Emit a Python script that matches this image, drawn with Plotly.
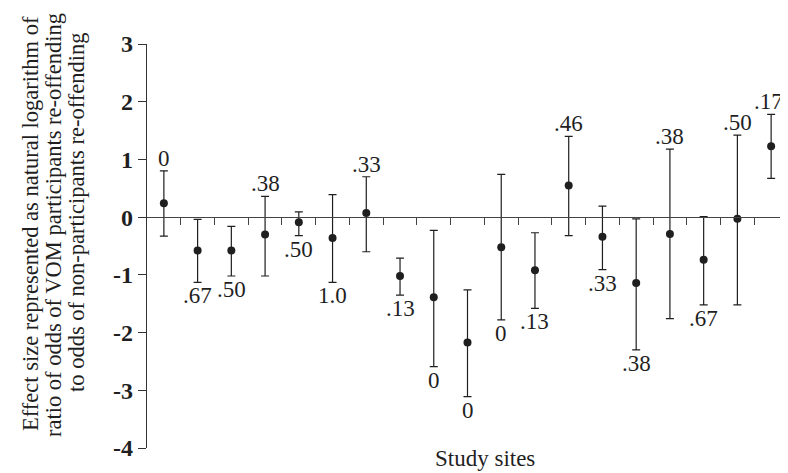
import plotly.graph_objects as go

# ---- data ----
sites = list(range(1, 20))
effect = [0.24, -0.58, -0.58, -0.30, -0.09, -0.36, 0.07, -1.02, -1.39, -2.17,
          -0.52, -0.92, 0.55, -0.34, -1.14, -0.29, -0.74, -0.03, 1.23]
upper = [0.80, -0.04, -0.16, 0.36, 0.09, 0.39, 0.70, -0.71, -0.23, -1.26,
         0.74, -0.27, 1.40, 0.19, -0.03, 1.18, 0.01, 1.42, 1.78]
lower = [-0.33, -1.13, -1.02, -1.02, -0.32, -1.13, -0.60, -1.35, -2.59, -3.11,
         -1.78, -1.58, -0.32, -0.91, -2.30, -1.76, -1.52, -1.52, 0.67]
labels = ["0", ".67", ".50", ".38", ".50", "1.0", ".33", ".13", "0", "0",
          "0", ".13", ".46", ".33", ".38", ".38", ".67", ".50", ".17"]
label_side = ["above", "below", "below", "above", "below", "below", "above",
              "below", "below", "below", "below", "below", "above", "below",
              "below", "above", "below", "above", "above"]
y_ticks = [-4, -3, -2, -1, 0, 1, 2, 3]
x_ticks = [i + 0.5 for i in range(1, 19)]
y_title_lines = ["Effect size represented as natural logarithm of",
                 "ratio of odds of VOM participants re-offending",
                 "to odds of non-participants re-offending"]
x_title = "Study sites"

INK = "#1f1f1f"
SERIF = "Liberation Serif, Times New Roman, serif"

# page body adds an 8px offset, so the figure is sized to fit the window
W, H = 780, 465
L, R, T, B = 139, 0, 36, 25
PW, PH = W - L - R, H - T - B


def px_x(p):
    return (p - L) / PW


def px_y(p):
    return (H - B - p) / PH


fig = go.Figure()
fig.add_trace(go.Scatter(
    x=sites, y=effect, mode="markers",
    marker=dict(color=INK, size=8),
    error_y=dict(type="data", symmetric=False,
                 array=[u - m for u, m in zip(upper, effect)],
                 arrayminus=[m - l for m, l in zip(effect, lower)],
                 color=INK, thickness=1.2, width=4),
    showlegend=False, cliponaxis=False,
))

n = len(sites)
for i, (x, txt, side, u, l) in enumerate(zip(sites, labels, label_side, upper, lower)):
    xs = -3 if i == n - 1 else 0
    if side == "above":
        fig.add_annotation(x=x, y=u, text=txt, showarrow=False,
                           yanchor="bottom", yshift=-2, xshift=xs,
                           font=dict(family=SERIF, size=23, color=INK))
    else:
        fig.add_annotation(x=x, y=l, text=txt, showarrow=False,
                           yanchor="top", yshift=1, xshift=xs,
                           font=dict(family=SERIF, size=23, color=INK))

# y-axis title, three lines (tight line spacing as in the reference)
for line, cx, cy in zip(y_title_lines, [23, 46, 68], [216, 217, 204]):
    fig.add_annotation(
        xref="paper", yref="paper", x=px_x(cx), y=px_y(cy),
        xanchor="center", yanchor="middle", textangle=-90, showarrow=False,
        text=line, font=dict(family=SERIF, size=22.5, color=INK),
    )
# x-axis title
fig.add_annotation(
    xref="paper", yref="paper", x=px_x(477), y=px_y(465),
    xanchor="center", yanchor="bottom", showarrow=False, text=x_title,
    font=dict(family=SERIF, size=23, color=INK),
)

fig.update_layout(
    width=W, height=H,
    margin=dict(l=L, r=R, t=T, b=B, pad=0),
    paper_bgcolor="white", plot_bgcolor="white",
    xaxis=dict(range=[0.5, 19.5], anchor="free", position=4 / 7,
               showline=True, linecolor="#444", linewidth=1,
               ticks="outside", ticklen=7, tickcolor="#444", tickwidth=1,
               tickvals=x_ticks, showticklabels=False,
               showgrid=False, zeroline=False),
    yaxis=dict(range=[-4, 3], tickvals=y_ticks,
               ticktext=[str(v) for v in y_ticks],
               showline=True, linecolor="#333", linewidth=1.2,
               ticks="outside", ticklen=8, tickcolor="#333", tickwidth=1,
               showgrid=False, zeroline=False,
               tickfont=dict(family=SERIF, size=24, color=INK, weight="bold")),
)

fig.write_html("out.html")
